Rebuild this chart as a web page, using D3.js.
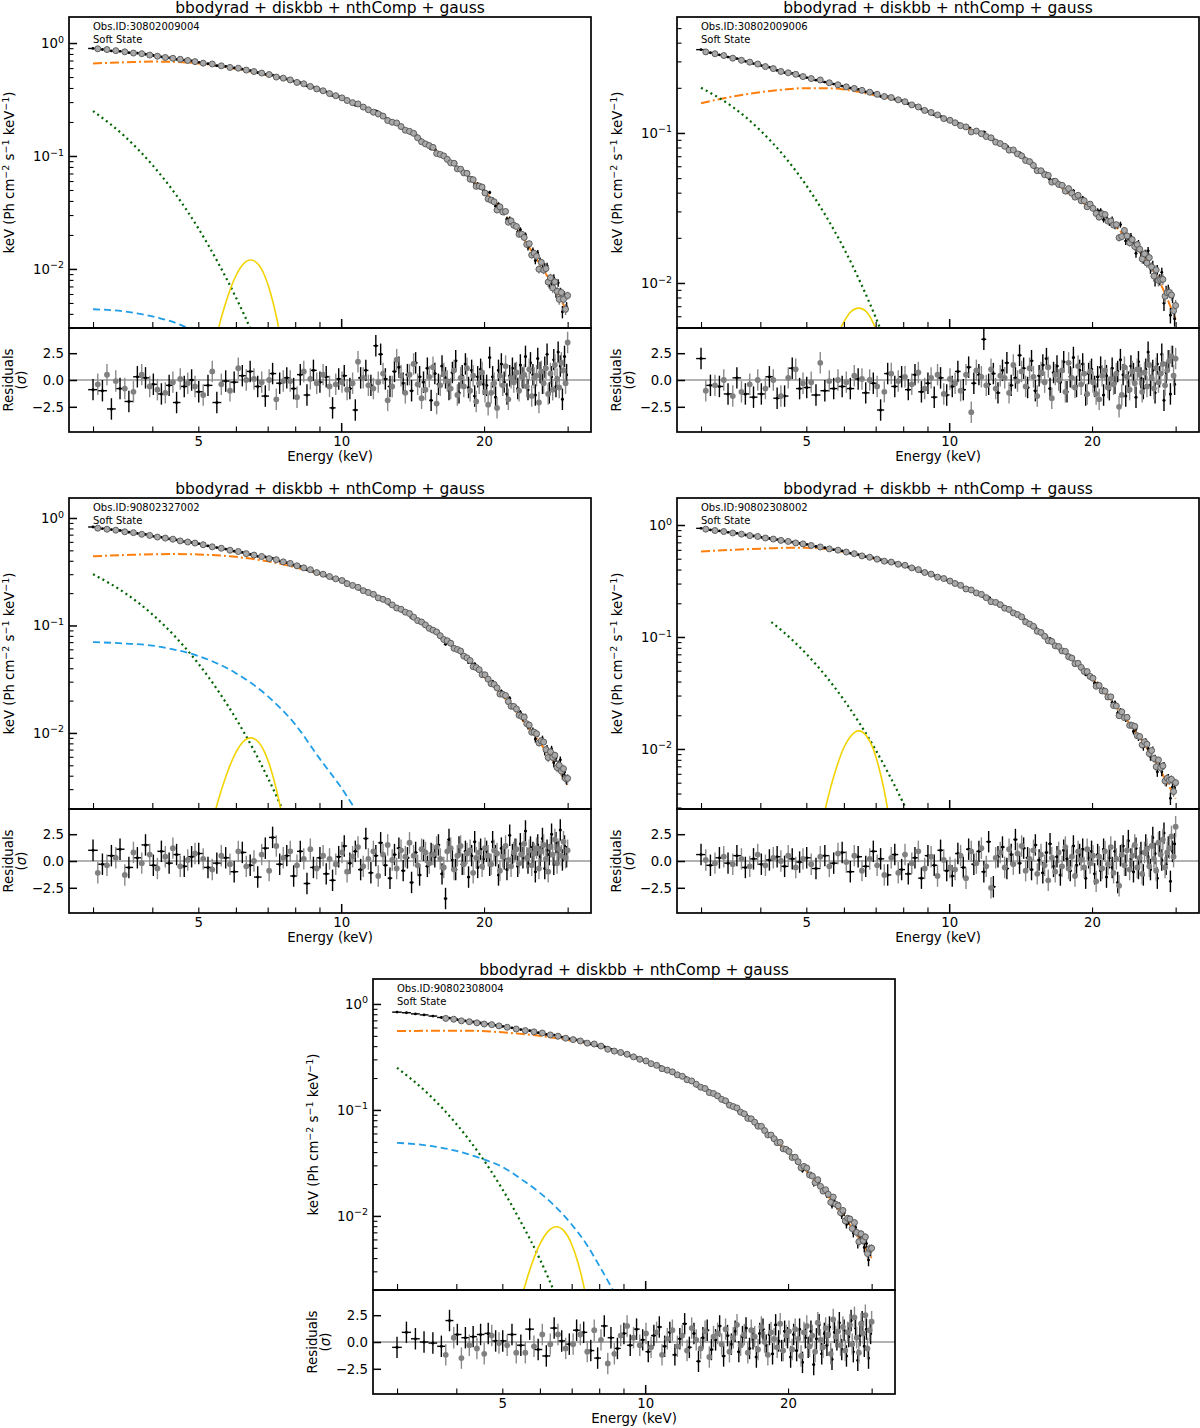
<!DOCTYPE html>
<html lang='en'>
<head>
    <meta charset='UTF-8'>
    <title>Spectral fits</title>
    <style>
        body { margin: 0; background: #fff; }
        svg { display: block; font-family: 'DejaVu Sans', sans-serif; }
    </style>
</head>
<body>
<div id="chart-area"></div>
<script src='https://d3js.org/d3.v7.min.js'></script>
<script>

    const modelTitle = 'bbodyrad + diskbb + nthComp + gauss';
    const obsIds = ['30802009004', '30802009006', '90802327002', '90802308002', '90802308004'];
    const stateLabel = 'Soft State';

    const xTicks = [3, 4, 5, 6, 7, 8, 9, 10, 20, 30];
    const xTickLabels = [5, 10, 20];
    const resTicks = [-2.5, 0, 2.5];

    // bin centres, keV (black = FPMA, grey = FPMB)
    const energyA = [3.00, 3.14, 3.28, 3.42, 3.57, 3.72, 3.87, 4.02, 4.18, 4.34, 4.50, 4.67, 4.84,
        5.01, 5.24, 5.47, 5.71, 5.95, 6.19, 6.43, 6.67, 6.92, 7.17, 7.42, 7.68, 7.94, 8.20, 8.47, 8.74, 9.02, 9.30, 9.59, 9.88,
        10.15, 10.43, 10.71, 10.99, 11.27, 11.55, 11.83, 12.11, 12.39, 12.67, 12.95, 13.23, 13.51, 13.79, 14.07, 14.35, 14.63, 14.91,
        15.19, 15.47, 15.75, 16.03, 16.31, 16.59, 16.87, 17.15, 17.43, 17.71, 17.99, 18.27, 18.55, 18.83, 19.11, 19.39, 19.67, 19.95,
        20.25, 20.55, 20.85, 21.15, 21.45, 21.75, 22.05, 22.35, 22.65, 22.95, 23.25, 23.55, 23.85, 24.15, 24.45, 24.75, 25.05,
        25.35, 25.65, 25.95, 26.25, 26.55, 26.85, 27.15, 27.45, 27.75, 28.05, 28.35, 28.65, 28.95, 29.25, 29.55, 29.85];
    const energyB = [3.07, 3.21, 3.35, 3.50, 3.65, 3.80, 3.95, 4.10, 4.26, 4.42, 4.58, 4.75, 4.92,
        5.12, 5.35, 5.59, 5.83, 6.07, 6.31, 6.55, 6.80, 7.05, 7.30, 7.55, 7.81, 8.07, 8.34, 8.61, 8.88, 9.16, 9.45, 9.74, 10.04,
        10.29, 10.57, 10.85, 11.13, 11.41, 11.69, 11.97, 12.25, 12.53, 12.81, 13.09, 13.37, 13.65, 13.93, 14.21, 14.49, 14.77, 15.05,
        15.33, 15.61, 15.89, 16.17, 16.45, 16.73, 17.01, 17.29, 17.57, 17.85, 18.13, 18.41, 18.69, 18.97, 19.25, 19.53, 19.81, 20.09,
        20.40, 20.70, 21.00, 21.30, 21.60, 21.90, 22.20, 22.50, 22.80, 23.10, 23.40, 23.70, 24.00, 24.30, 24.60, 24.90, 25.20,
        25.50, 25.80, 26.10, 26.40, 26.70, 27.00, 27.30, 27.60, 27.90, 28.20, 28.50, 28.80, 29.10, 29.40, 29.70, 30.00];

    // fractional 1-sigma flux error vs energy
    const errE = [3, 5, 10, 15, 20, 25, 30];
    const errFrac = [0.006, 0.006, 0.01, 0.018, 0.035, 0.06, 0.11];

    // model curves [E keV, keV (Ph cm-2 s-1 keV-1)]
    const totalP1 = [[3, 0.90], [3.5, 0.84], [4, 0.78], [5, 0.68], [6, 0.60], [7, 0.53], [8, 0.46], [10, 0.33], [12, 0.235], [14, 0.162], [16, 0.108], [18, 0.074], [20, 0.05], [22, 0.032], [24, 0.02], [26, 0.012], [28, 0.0072], [30, 0.0042]];
    const diskP1 = [[3, 0.66], [3.5, 0.675], [4, 0.685], [4.5, 0.68], [5, 0.66], [6, 0.59], [7, 0.52], [8, 0.455], [10, 0.325], [12, 0.232], [14, 0.16], [16, 0.107], [18, 0.073], [20, 0.049], [22, 0.031], [24, 0.0195], [26, 0.0117], [28, 0.007], [30, 0.0041]];
    const bbP1 = [[3, 0.25], [3.5, 0.149], [4, 0.0834], [4.5, 0.0446], [5, 0.0229], [5.5, 0.0114], [6, 0.0056], [6.5, 0.0027], [7, 0.00125]];
    const compP1 = [[3, 0.0044], [3.5, 0.0042], [4, 0.0038], [4.5, 0.0033], [5, 0.0027], [5.5, 0.0022], [6, 0.0017]];
    const gaussP1 = [[5.2, 0.0011], [5.4, 0.0021], [5.6, 0.0038], [5.8, 0.0061], [6.0, 0.0087], [6.2, 0.0109], [6.45, 0.012], [6.7, 0.0109], [6.9, 0.0087], [7.1, 0.0061], [7.3, 0.0038], [7.5, 0.0021], [7.7, 0.0011]];

    const totalP2 = [[3, 0.355], [3.5, 0.318], [4, 0.285], [4.5, 0.255], [5, 0.235], [6, 0.205], [7, 0.183], [8, 0.163], [10, 0.122], [12, 0.095], [14, 0.072], [16, 0.052], [18, 0.04], [20, 0.032], [22, 0.0255], [24, 0.0195], [26, 0.0145], [28, 0.0098], [30, 0.0058]];
    const diskP2 = [[3, 0.158], [3.5, 0.175], [4, 0.187], [4.5, 0.195], [5, 0.199], [5.5, 0.199], [6, 0.195], [7, 0.178], [8, 0.161], [10, 0.121], [12, 0.094], [14, 0.071], [16, 0.051], [18, 0.039], [20, 0.031], [22, 0.025], [24, 0.019], [26, 0.0142], [28, 0.0096], [30, 0.0057]];
    const bbP2 = [[3, 0.2], [3.5, 0.149], [4, 0.104], [4.5, 0.0695], [5, 0.0447], [5.5, 0.0279], [6, 0.017], [6.5, 0.0101], [7, 0.0059], [7.5, 0.0034]];
    const gaussP2 = [[5.4, 0.0022], [5.8, 0.0044], [6.0, 0.0055], [6.2, 0.0064], [6.45, 0.0068], [6.7, 0.0064], [6.9, 0.0055], [7.1, 0.0044], [7.5, 0.0022]];

    const totalP3 = [[3, 0.82], [3.5, 0.75], [4, 0.68], [5, 0.575], [6, 0.49], [7, 0.425], [8, 0.365], [10, 0.262], [12, 0.183], [14, 0.124], [16, 0.083], [18, 0.054], [20, 0.034], [22, 0.022], [24, 0.0138], [26, 0.0087], [28, 0.0055], [30, 0.0034]];
    const diskP3 = [[3, 0.44], [3.5, 0.452], [4, 0.46], [4.5, 0.462], [5, 0.458], [6, 0.435], [7, 0.395], [8, 0.348], [10, 0.255], [12, 0.18], [14, 0.122], [16, 0.081], [18, 0.053], [20, 0.0333], [22, 0.0215], [24, 0.0135], [26, 0.0085], [28, 0.0054], [30, 0.0033]];
    const bbP3 = [[3, 0.30], [3.5, 0.201], [4, 0.127], [4.5, 0.0762], [5, 0.0442], [5.5, 0.0248], [6, 0.0136], [6.5, 0.0073], [7, 0.00385], [7.5, 0.002], [8, 0.00102]];
    const compP3 = [[3, 0.070], [3.5, 0.068], [4, 0.065], [4.5, 0.059], [5, 0.052], [6, 0.036], [7, 0.022], [8, 0.012], [9, 0.0058], [10, 0.0031], [11, 0.0016]];
    const gaussP3 = [[5.2, 0.0007], [5.4, 0.0017], [5.6, 0.003], [5.8, 0.0047], [6.0, 0.0066], [6.2, 0.0082], [6.45, 0.009], [6.7, 0.0082], [6.9, 0.0066], [7.1, 0.0047], [7.3, 0.003], [7.5, 0.0017], [7.7, 0.0007]];

    const totalP4 = [[3, 0.93], [3.5, 0.85], [4, 0.78], [5, 0.67], [6, 0.58], [7, 0.50], [8, 0.44], [10, 0.32], [12, 0.225], [14, 0.155], [16, 0.10], [18, 0.066], [20, 0.043], [22, 0.027], [24, 0.017], [26, 0.0105], [28, 0.0063], [30, 0.0037]];
    const diskP4 = [[3, 0.58], [3.5, 0.60], [4, 0.615], [4.5, 0.625], [5, 0.625], [5.5, 0.61], [6, 0.575], [7, 0.495], [8, 0.435], [10, 0.315], [12, 0.222], [14, 0.153], [16, 0.099], [18, 0.065], [20, 0.0425], [22, 0.0267], [24, 0.0168], [26, 0.0104], [28, 0.0062], [30, 0.0036]];
    const bbP4 = [[4.22, 0.136], [4.5, 0.1086], [5, 0.0706], [5.5, 0.0446], [6, 0.0274], [6.5, 0.0165], [7, 0.0098], [7.5, 0.0057], [8, 0.0033], [8.5, 0.0019]];
    const gaussP4 = [[5.2, 0.0011], [5.4, 0.0022], [5.6, 0.0042], [5.8, 0.007], [6.0, 0.0103], [6.2, 0.013], [6.45, 0.0145], [6.7, 0.013], [6.9, 0.0103], [7.1, 0.007], [7.3, 0.0042], [7.5, 0.0022], [7.7, 0.0011]];

    const totalP5 = [[3, 0.84], [3.5, 0.78], [4, 0.71], [5, 0.615], [6, 0.535], [7, 0.465], [8, 0.405], [10, 0.29], [12, 0.205], [14, 0.14], [16, 0.094], [18, 0.062], [20, 0.040], [22, 0.026], [24, 0.0165], [26, 0.0105], [28, 0.0066], [30, 0.0041]];
    const diskP5 = [[3, 0.555], [3.5, 0.558], [4, 0.56], [4.5, 0.555], [5, 0.54], [6, 0.5], [7, 0.45], [8, 0.4], [10, 0.285], [12, 0.202], [14, 0.138], [16, 0.093], [18, 0.061], [20, 0.0395], [22, 0.0257], [24, 0.0163], [26, 0.0104], [28, 0.0065], [30, 0.004]];
    const bbP5 = [[3, 0.25], [3.5, 0.14], [4, 0.0738], [4.5, 0.0371], [5, 0.0179], [5.5, 0.0084], [6, 0.0039], [6.5, 0.00173]];
    const compP5 = [[3, 0.049], [3.5, 0.046], [4, 0.041], [4.5, 0.035], [5, 0.029], [5.5, 0.022], [6, 0.0165], [6.5, 0.012], [7, 0.0083], [7.5, 0.0055], [8, 0.0034], [8.5, 0.0021], [9, 0.0013]];
    const gaussP5 = [[5.4, 0.00126], [5.6, 0.00232], [5.8, 0.00376], [6.0, 0.00541], [6.25, 0.00719], [6.5, 0.0079], [6.75, 0.00719], [7.0, 0.00541], [7.2, 0.00376], [7.4, 0.00232], [7.6, 0.00126]];

    // residuals (sigma), same order as energyA / energyB
    const resA1 = [-0.9, -1.0, -2.7, -0.8, -2.0, 0.3, 0.2, -0.4, -1.3, -0.5, -2.1, -0.6, 0.0,
        -1.1, -0.5, -2.1, -0.1, -0.2, 0.4, 0.8, -0.6, -1.5, 0.6, -0.3, 0.2, -0.8, 0.5, -1.4, 0.9, -0.2, 0.3, -2.6, 0.1,
        0.4, -0.8, -2.8, 0.2, 0.9, -0.5, 3.2, 2.4, 0.1, -0.6, 0.8, 1.2, -0.3, 0.5, -1.0, 1.6, 0.3, -0.2, 1.1, -1.9,
        0.6, -0.4, 1.3, 0.2, -0.9, 0.7, 1.8, -1.2, 0.4, 1.5, -0.7, 0.9, -1.5, 0.3, 1.0, -0.4,
        -0.5, 2.1, 0.3, -1.6, 0.9, 1.5, -0.2, -1.3, 0.4, 1.1, 0.6, -0.8, 1.4, 0.2, 2.2, -0.9, 1.6,
        0.5, -1.4, 2.0, 0.7, -0.3, 1.2, 2.4, -1.2, 0.3, 1.9, -0.6, 2.6, 1.3, -1.8, 2.2, 0.5];
    const resB1 = [-0.4, 0.5, -0.1, -0.8, -1.1, 0.5, -0.6, -0.9, -1.2, -0.2, 0.1, -0.3, -0.6,
        -1.4, 0.8, -0.4, -1.0, 1.1, 0.0, 0.1, -0.2, 0.0, -1.8, -0.1, -0.1, -1.6, 0.8, 0.1, -0.3, 0.5, -0.6, -0.4, -0.2,
        -0.9, -0.3, 1.7, 0.2, -0.5, -0.8, -0.2, 0.6, -1.9, -0.6, 1.9, 0.4, -1.2, 0.5, 1.5, -0.4, -1.7, -0.9,
        0.3, 1.2, -2.2, -0.5, 0.6, -0.1, -0.8, 0.9, -1.4, 0.2, -0.6, 1.1, -1.0, 0.4, -2.0, -0.3, 0.7, -1.1,
        -2.3, -1.2, -0.3, -2.6, 0.4, -0.5, 1.3, -1.8, 0.2, -0.2, 0.7, -1.0, 0.3, 0.5, -0.6, 1.0, -1.5,
        0.2, 0.4, -2.1, 0.8, -0.3, 1.1, -1.3, 0.6, -0.9, 1.4, 0.1, -0.7, 1.6, 0.9, -0.3, 3.5];

    const resA2 = [2.0, -0.5, -0.6, -1.3, 0.2, -1.3, -1.6, -1.3, 0.3, -1.7, -1.5, 1.1, -0.8,
        -0.7, -1.4, -1.0, -0.8, -0.6, -0.8, 0.1, -1.2, -0.3, -2.8, 0.6, -0.6, 0.3, -0.9, 0.5, -1.1, -0.3, -1.6, 0.2, -1.4,
        -0.6, 0.8, -0.9, 1.2, -0.3, 0.5, 3.8, -0.4, 0.6, -1.2, 0.9, 1.6, -0.5, 0.2, 2.3, 1.1, -0.7, 1.8,
        -1.0, 0.4, 1.4, 2.0, -0.8, 0.7, 1.3, -0.2, 1.7, -1.1, 0.3, 2.1, -0.6, 0.9, 1.5, -1.4, 0.6, 1.0,
        -0.6, 0.3, 1.2, -1.4, 0.4, -0.9, 1.1, -0.3, 0.8, 1.9, 0.5, -1.5, -0.2, 1.3, 0.6, -1.6, 1.7,
        0.2, -0.8, 1.0, 2.6, -0.5, 0.9, -1.2, 1.5, 0.3, 2.4, -1.9, 0.7, 1.8, -1.3, 2.2, -0.4];
    const resB2 = [-1.0, -0.5, 0.0, -1.5, -1.1, -0.4, 0.0, -0.8, 0.0, -1.5, 0.2, 1.0, -0.3,
        -0.2, 1.6, -0.1, 0.0, -0.2, 0.4, 0.1, 0.0, -0.6, -1.1, 0.6, -0.1, 0.3, -0.4, 0.7, -0.8, 0.2, 0.5, -1.3, 0.1,
        -0.3, -1.0, 0.5, -3.0, 0.9, 0.3, -0.5, 1.0, -0.8, 0.4, 0.2, -1.2, 1.4, -0.1, 0.8, -0.6, 1.1, 0.3,
        -1.5, 0.7, -0.2, 1.2, -1.7, 0.5, 0.0, 0.9, -1.1, 1.6, 0.2, -0.7, 1.3, -0.4, 0.6, -1.3, 0.8, -0.2,
        -1.3, -1.8, 0.4, 0.9, -0.7, 0.1, -0.4, 0.6, -2.5, -1.4, 1.2, 0.3, -0.9, 0.8, -0.3, 1.0, 0.5,
        -1.1, 0.7, -0.6, 1.4, 0.2, -0.8, 1.1, -0.2, 0.6, 1.5, -0.5, 0.9, 1.8, 2.2, 0.4, 2.0];

    const resA3 = [1.0, -0.3, 0.5, 1.1, -0.6, 0.3, 1.5, -0.4, 0.9, -0.2, 0.6, -0.5, 0.4,
        0.7, -0.6, -0.2, 0.3, -1.0, 0.8, -0.4, -1.5, 1.2, 2.2, -0.3, 0.5, -1.4, 0.9, -2.1, -0.6, 0.3, -1.2, -1.8, 0.4,
        1.4, -0.2, 0.9, -0.8, 2.1, -1.1, 0.5, 1.7, -0.4, -1.6, 0.6, 1.2, -0.9, 0.3, -2.0, 0.8, -1.3, 1.0,
        -0.5, 0.7, 0.4, 1.5, -1.2, -3.5, 2.0, 0.1, -0.8, 1.3, -0.3, 0.9, -1.5, 0.5, 1.8, -0.6, 1.1, 0.2,
        0.9, -0.4, 1.8, 0.5, -1.3, 1.2, 0.2, -0.8, 2.4, 0.6, 1.1, -0.5, 1.6, 0.3, 2.8, -0.2, 1.3,
        0.8, -1.0, 1.5, 0.4, 2.1, -0.7, 1.0, 0.6, 2.5, -0.3, 1.7, 0.9, 2.9, 0.1, 1.4, 0.4];
    const resB3 = [-1.1, -0.4, 0.3, -1.3, 0.8, -0.2, 0.6, -0.7, 0.4, 1.2, -0.5, 0.1, 0.7,
        0.2, -0.8, 0.5, -0.3, 0.9, -0.5, 0.0, 0.6, -0.9, 1.4, 0.3, 0.9, -0.4, 0.2, 1.1, -0.7, 0.5, 0.2, -0.3, 0.8,
        -1.0, 0.4, 1.3, -0.5, 0.2, 0.9, -1.4, 0.6, 1.5, 0.1, -0.7, 1.0, 0.4, 1.7, 0.5, -0.4, 1.1, 0.8,
        -0.2, 0.6, 1.3, 0.2, -0.6, 0.9, 1.2, -0.8, 0.5, 1.4, -0.3, 0.7, 1.0, -1.1, 0.3, 0.8, -0.5, 1.2,
        0.5, -0.3, 1.0, 0.7, -0.9, 0.4, 1.4, 0.1, -0.5, 0.8, 1.1, -0.2, 0.6, 1.6, 0.3, 1.0, -0.4,
        0.7, 1.2, -0.7, 0.9, 1.5, 0.2, -1.0, 1.3, 0.6, 2.0, -0.2, 1.1, 0.5, 1.8, 0.3, 1.0];

    const resA4 = [0.6, -0.4, 0.3, -0.2, 0.5, -0.6, 0.2, -0.3, 0.1, 0.4, -0.5, 0.2, -0.1,
        0.3, -0.7, 0.5, -0.2, 0.8, -1.0, 0.4, -0.5, 0.9, 0.2, -1.3, 0.6, -0.8, -1.2, 0.3, -1.6, 0.5, -0.4, 1.0, -0.9,
        -1.4, 0.7, -0.6, 1.1, -0.3, 0.9, -1.0, 1.8, -2.4, 0.4, 1.3, -0.7, 0.6, 2.0, -0.2, 1.2, 0.3, -0.8,
        1.5, 0.1, -1.1, 0.8, 1.6, -0.5, 0.4, -1.3, 1.0, 0.2, -0.9, 1.4, -0.4, 0.6, 1.1, -1.6, 0.3, 0.9,
        -1.2, 0.6, -0.9, 1.1, -1.5, 0.3, -0.6, 0.9, -2.0, 0.5, 1.4, -0.4, 1.9, 0.2, -1.0, 1.2, -0.7,
        0.8, -1.3, 1.5, 0.4, -0.8, 2.2, 0.7, -1.6, 1.8, 0.1, 2.6, -0.3, 1.3, -1.9, 0.9, 1.6];
    const resB4 = [0.1, -0.2, 0.4, -0.3, 0.2, -0.5, 0.6, -0.4, 0.3, 0.0, 0.5, -0.6, 0.2,
        -0.3, 0.4, -0.5, 0.7, -0.1, 0.5, -0.9, 0.2, -0.4, -1.3, 0.3, -1.1, 0.6, -0.2, 0.9, -0.7, 0.4, -1.4, 0.1, -0.6,
        -0.8, 0.5, -1.6, 0.9, -0.2, 1.2, -0.5, -2.5, 0.3, 0.8, -0.6, 1.1, -0.3, 0.7, 1.4, -0.9, 0.2, 1.0,
        -1.2, 0.6, -0.4, -1.8, 0.3, -1.0, 0.8, -0.5, 1.3, -0.7, 0.4, -1.4, 0.9, 0.1, -0.6, 1.1, -0.2, 0.5,
        -1.9, 0.4, -0.7, 0.9, -0.3, 1.3, -1.1, 0.2, -2.3, 0.6, -0.4, 1.0, -0.8, 0.5, 1.5, -0.6, 0.3,
        -1.2, 0.8, 1.1, -0.5, 1.4, 0.2, -0.9, 1.7, 0.6, 2.0, -0.6, 0.8, 1.2, 2.3, 0.4, 3.2];

    const resA5 = [-0.5, 0.9, 0.3, 0.0, -0.1, -0.4, 2.0, 0.7, 0.4, 0.5, 0.7, 0.8, 0.1,
        0.1, 0.7, -0.3, 1.2, -0.7, -1.3, 1.3, 0.1, -0.2, 1.1, 0.9, -0.8, -1.5, 1.5, 0.4, -0.6, 0.8, -0.3, 1.2, 0.2,
        -0.9, 0.6, 1.4, -0.4, 0.9, -1.2, 0.3, 1.7, -0.5, 0.8, -1.8, 0.4, 1.1, -0.7, 0.2, 1.5, -1.3, 0.6,
        -0.2, 1.0, -0.9, 0.5, 1.3, -0.6, 0.3, -1.4, 0.8, 1.2, -0.3, 0.7, -1.1, 1.6, 0.1, -0.8, 1.0, 0.4,
        -1.4, 0.7, -0.8, 1.2, -1.9, 0.4, -0.5, 1.0, -2.1, 0.3, 1.6, -1.1, 0.8, -0.3, 1.4, -1.6, 0.9,
        0.2, 1.8, -0.7, 1.1, -1.3, 0.5, 2.0, -0.9, 1.3, -1.7, 0.6, 1.9, -0.4, 1.2, -1.5, 0.8];
    const resB5 = [null, null, null, null, null, -1.2, 0.4, -1.5, -0.3, -0.6, -1.1, 0.6, -0.1,
        -0.3, -1.0, -1.0, -0.4, 0.7, -0.2, 0.7, -0.6, -0.2, 0.7, -0.9, 1.1, 0.2, -2.0, -1.1, 0.6, 1.5, 0.4, -0.3, 0.8,
        -0.5, 0.9, -1.2, 0.3, 1.1, -0.4, 0.6, -0.8, 1.3, 0.2, -0.6, 1.0, -1.4, 0.5, 0.8, -0.2, 1.2, -0.9,
        0.4, 1.6, -0.3, 0.7, -1.0, 1.1, 0.5, -0.7, 1.4, 0.0, -1.2, 0.9, 0.3, -0.5, 1.7, -0.8, 0.6, 1.0,
        -0.7, 1.2, 0.3, -1.3, 0.9, 1.5, -0.4, 0.6, -0.9, 1.8, 0.2, -0.5, 1.3, 0.7, -1.1, 2.1, 0.5,
        1.0, -0.3, 1.4, -0.8, 0.9, 1.6, -0.2, 2.3, 0.4, -1.0, 1.7, 0.8, 2.5, -0.6, 1.1, 1.9];

    // ---- layout ----
    const plotW = 522;
    const mainH = 311;
    const resH = 104;
    const xDomain = [2.67, 33.6];
    const resLim = 4.85;

    const panels = [
        {left: 69, top: 17, yDomain: [0.0030, 1.70], obs: obsIds[0], total: totalP1, disk: diskP1, bb: bbP1, comp: compP1, gauss: gaussP1, resA: resA1, resB: resB1},
        {left: 677, top: 17, yDomain: [0.00501, 0.593], obs: obsIds[1], total: totalP2, disk: diskP2, bb: bbP2, comp: null, gauss: gaussP2, resA: resA2, resB: resB2},
        {left: 69, top: 498, yDomain: [0.00196, 1.535], obs: obsIds[2], total: totalP3, disk: diskP3, bb: bbP3, comp: compP3, gauss: gaussP3, resA: resA3, resB: resB3},
        {left: 677, top: 498, yDomain: [0.00291, 1.742], obs: obsIds[3], total: totalP4, disk: diskP4, bb: bbP4, comp: null, gauss: gaussP4, resA: resA4, resB: resB4},
        {left: 373, top: 979, yDomain: [0.0020, 1.72], obs: obsIds[4], total: totalP5, disk: diskP5, bb: bbP5, comp: compP5, gauss: gaussP5, resA: resA5, resB: resB5}
    ];

    const compStyles = [
        {key: 'disk', color: '#ff7f0e', width: 2, dash: '9,3,2,3'},
        {key: 'bb', color: '#006400', width: 2.2, dash: '2,3.4'},
        {key: 'comp', color: '#1f9de6', width: 1.8, dash: '7,4'},
        {key: 'gauss', color: '#f2d300', width: 1.6, dash: null}
    ];

    const svg = d3.select('#chart-area').append('svg')
        .attr('width', 1200)
        .attr('height', 1428);

    const fracAt = d3.scaleLinear().domain(errE).range(errFrac);

    function styleAxis(g, size) {
        g.attr('font-family', null).attr('font-size', size);
        g.select('.domain').remove();
    }

    panels.forEach((p, pi) => drawPanel(p, pi));

    function drawPanel(p, pi) {
        const x = d3.scaleLog().domain(xDomain).range([0, plotW]);
        const y = d3.scaleLog().domain(p.yDomain).range([mainH, 0]);
        const yr = d3.scaleLinear().domain([-resLim, resLim]).range([mainH + resH, mainH]);

        const totalAt = d3.scaleLog()
            .domain(p.total.map(d => d[0]))
            .range(p.total.map(d => Math.log10(d[1])));

        function buildSet(energies, res) {
            return energies.map((e, i) => {
                const prev = i > 0 ? energies[i - 1] : 2 * e - energies[i + 1];
                const next = i < energies.length - 1 ? energies[i + 1] : 2 * e - energies[i - 1];
                const m = Math.pow(10, totalAt(e));
                const f = fracAt(e);
                return {e: e, e0: (prev + e) / 2, e1: (e + next) / 2, r: res[i],
                    flux: res[i] === null ? null : m * (1 + res[i] * f), ferr: m * f};
            }).filter(d => d.r !== null);
        }

        const setA = buildSet(energyA, p.resA);
        const setB = buildSet(energyB, p.resB);

        const g = svg.append('g').attr('transform', `translate(${p.left}, ${p.top})`);

        g.append('clipPath').attr('id', 'clip-main-' + pi)
            .append('rect').attr('width', plotW).attr('height', mainH);
        g.append('clipPath').attr('id', 'clip-res-' + pi)
            .append('rect').attr('y', mainH).attr('width', plotW).attr('height', resH);

        // ---- main panel ----
        const main = g.append('g').attr('clip-path', `url(#clip-main-${pi})`);

        const line = d3.line()
            .x(d => x(d[0]))
            .y(d => y(d[1]))
            .curve(d3.curveMonotoneX);

        compStyles.forEach(s => {
            if (!p[s.key]) return;
            main.append('path')
                .datum(p[s.key])
                .attr('d', line)
                .attr('fill', 'none')
                .attr('stroke', s.color)
                .attr('stroke-width', s.width)
                .attr('stroke-dasharray', s.dash);
        });

        // black set
        main.append('g').selectAll('line').data(setA).enter().append('line')
            .attr('x1', d => x(d.e0)).attr('x2', d => x(d.e1))
            .attr('y1', d => y(d.flux)).attr('y2', d => y(d.flux))
            .attr('stroke', 'black').attr('stroke-width', 1.4);
        main.append('g').selectAll('line').data(setA).enter().append('line')
            .attr('x1', d => x(d.e)).attr('x2', d => x(d.e))
            .attr('y1', d => y(d.flux - d.ferr)).attr('y2', d => y(d.flux + d.ferr))
            .attr('stroke', 'black').attr('stroke-width', 1.4);
        main.append('g').selectAll('circle').data(setA).enter().append('circle')
            .attr('cx', d => x(d.e)).attr('cy', d => y(d.flux)).attr('r', 1.4)
            .attr('fill', 'black');

        // grey set
        main.append('g').selectAll('line').data(setB).enter().append('line')
            .attr('x1', d => x(d.e)).attr('x2', d => x(d.e))
            .attr('y1', d => y(d.flux - d.ferr)).attr('y2', d => y(d.flux + d.ferr))
            .attr('stroke', '#808080').attr('stroke-width', 1.4);
        main.append('g').selectAll('circle').data(setB).enter().append('circle')
            .attr('cx', d => x(d.e)).attr('cy', d => y(d.flux)).attr('r', 3)
            .attr('fill', '#a8a8a8').attr('stroke', '#5e5e5e').attr('stroke-width', 1);

        // ---- residual panel ----
        const res = g.append('g').attr('clip-path', `url(#clip-res-${pi})`);

        res.append('line')
            .attr('x1', 0).attr('x2', plotW)
            .attr('y1', yr(0)).attr('y2', yr(0))
            .attr('stroke', '#999').attr('stroke-width', 1.6);

        res.append('g').selectAll('line').data(setA).enter().append('line')
            .attr('x1', d => x(d.e0)).attr('x2', d => x(d.e1))
            .attr('y1', d => yr(d.r)).attr('y2', d => yr(d.r))
            .attr('stroke', 'black').attr('stroke-width', 1.4);
        res.append('g').selectAll('line').data(setA).enter().append('line')
            .attr('x1', d => x(d.e)).attr('x2', d => x(d.e))
            .attr('y1', d => yr(d.r - 1)).attr('y2', d => yr(d.r + 1))
            .attr('stroke', 'black').attr('stroke-width', 1.4);
        res.append('g').selectAll('circle').data(setA).enter().append('circle')
            .attr('cx', d => x(d.e)).attr('cy', d => yr(d.r)).attr('r', 1.5)
            .attr('fill', 'black');

        res.append('g').selectAll('line').data(setB).enter().append('line')
            .attr('x1', d => x(d.e)).attr('x2', d => x(d.e))
            .attr('y1', d => yr(d.r - 1)).attr('y2', d => yr(d.r + 1))
            .attr('stroke', '#8a8a8a').attr('stroke-width', 1.4);
        res.append('g').selectAll('circle').data(setB).enter().append('circle')
            .attr('cx', d => x(d.e)).attr('cy', d => yr(d.r)).attr('r', 2.9)
            .attr('fill', '#808080');

        // ---- axes (ticks point inward) ----
        const minorX = xTicks.filter(v => v !== 10);

        [mainH, mainH + resH].forEach((yy, k) => {
            const len = k === 0 ? 6 : 5.5;
            g.append('g').attr('transform', `translate(0, ${yy})`)
                .call(d3.axisBottom(x).tickValues(minorX).tickSize(-len).tickFormat(''))
                .call(a => styleAxis(a, 13.3))
                .selectAll('line').attr('stroke-width', 1.1);
            g.append('g').attr('transform', `translate(0, ${yy})`)
                .call(d3.axisBottom(x).tickValues([10]).tickSize(-9).tickFormat(''))
                .call(a => styleAxis(a, 13.3))
                .selectAll('line').attr('stroke-width', 1.5);
        });

        g.append('g').attr('transform', `translate(0, ${mainH + resH})`)
            .call(d3.axisBottom(x).tickValues(xTickLabels).tickSize(0).tickPadding(5).tickFormat(d => d))
            .call(a => styleAxis(a, 13.3));

        const yTickVals = y.ticks().filter(v => v >= p.yDomain[0] && v <= p.yDomain[1]);
        const isDecade = v => Math.abs(Math.log10(v) - Math.round(Math.log10(v))) < 1e-6;

        g.append('g')
            .call(d3.axisLeft(y).tickValues(yTickVals.filter(v => !isDecade(v))).tickSize(-4.5).tickFormat(''))
            .call(a => styleAxis(a, 13.3))
            .selectAll('line').attr('stroke-width', 1.1);

        const gy = g.append('g')
            .call(d3.axisLeft(y).tickValues(yTickVals.filter(isDecade)).tickSize(-8).tickPadding(5))
            .call(a => styleAxis(a, 13.3));
        gy.selectAll('line').attr('stroke-width', 1.5);
        gy.selectAll('.tick text').text(null).each(function (d) {
            const t = d3.select(this);
            const ex = Math.round(Math.log10(d));
            t.append('tspan').text('10');
            t.append('tspan').attr('dy', '-0.55em').attr('font-size', 9.5)
                .text(ex < 0 ? '\u2212' + (-ex) : String(ex));
        });

        g.append('g')
            .call(d3.axisLeft(yr).tickValues(resTicks).tickSize(-8).tickPadding(5).tickFormat(d3.format('.1f')))
            .call(a => styleAxis(a, 13.3))
            .selectAll('line').attr('stroke-width', 1.5);

        // frames
        g.append('rect').attr('width', plotW).attr('height', mainH)
            .attr('fill', 'none').attr('stroke', 'black').attr('stroke-width', 1.7);
        g.append('rect').attr('y', mainH).attr('width', plotW).attr('height', resH)
            .attr('fill', 'none').attr('stroke', 'black').attr('stroke-width', 1.7);

        // ---- texts ----
        g.append('text')
            .attr('x', plotW / 2).attr('y', -4)
            .attr('text-anchor', 'middle').attr('font-size', 15.5)
            .text(modelTitle);

        g.append('text').attr('x', 24).attr('y', 13).attr('font-size', 10).text('Obs.ID:' + p.obs);
        g.append('text').attr('x', 24).attr('y', 26).attr('font-size', 10).text(stateLabel);

        const yl = g.append('text')
            .attr('transform', `translate(-55, ${mainH / 2}) rotate(-90)`)
            .attr('text-anchor', 'middle').attr('font-size', 13.3);
        yl.append('tspan').text('keV (Ph cm');
        yl.append('tspan').attr('dy', -5).attr('font-size', 9.5).text('\u22122');
        yl.append('tspan').attr('dy', 5).text(' s');
        yl.append('tspan').attr('dy', -5).attr('font-size', 9.5).text('\u22121');
        yl.append('tspan').attr('dy', 5).text(' keV');
        yl.append('tspan').attr('dy', -5).attr('font-size', 9.5).text('\u22121');
        yl.append('tspan').attr('dy', 5).text(')');

        g.append('text')
            .attr('transform', `translate(-56, ${mainH + resH / 2}) rotate(-90)`)
            .attr('text-anchor', 'middle').attr('font-size', 13.3)
            .text('Residuals');
        const sig = g.append('text')
            .attr('transform', `translate(-43, ${mainH + resH / 2}) rotate(-90)`)
            .attr('text-anchor', 'middle').attr('font-size', 13.3);
        sig.append('tspan').text('(');
        sig.append('tspan').attr('font-style', 'italic').text('\u03c3');
        sig.append('tspan').text(')');

        g.append('text')
            .attr('x', plotW / 2).attr('y', mainH + resH + 29)
            .attr('text-anchor', 'middle').attr('font-size', 13.3)
            .text('Energy (keV)');
    }
</script>
</body>
</html>
